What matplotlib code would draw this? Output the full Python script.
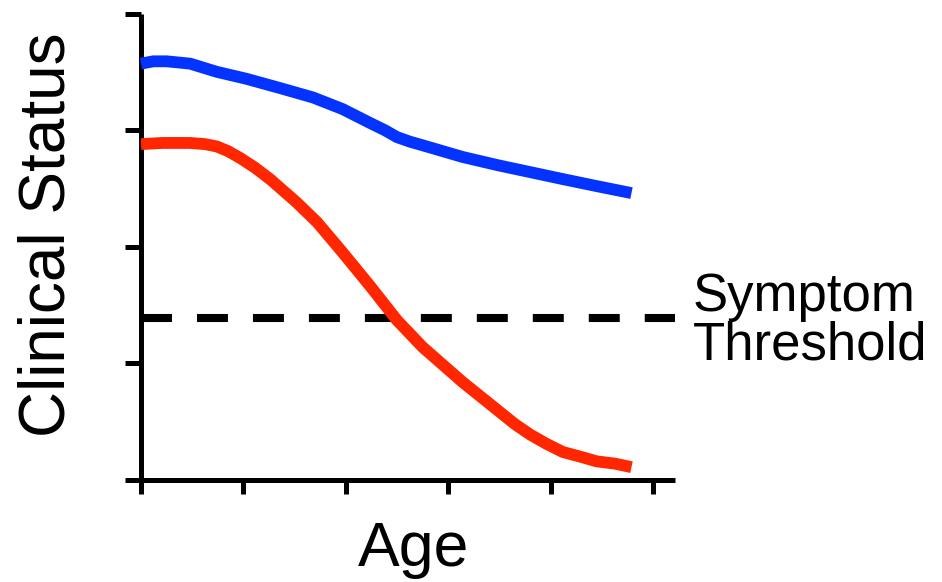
import numpy as np
import matplotlib
matplotlib.use("Agg")
import matplotlib.pyplot as plt

plt.rcParams['font.family'] = ['Liberation Sans', 'DejaVu Sans']
plt.rcParams['lines.scale_dashes'] = False

# Values (x in age tick units, y in status tick units)
healthy_age = [0.0, 0.12, 0.25, 0.48, 0.74, 1.03, 1.36, 1.68, 1.97, 2.24, 2.38,
               2.50, 2.63, 2.75, 3.14, 3.48, 3.80, 4.12, 4.45, 4.79]
healthy_status = [3.57, 3.59, 3.59, 3.57, 3.50, 3.44, 3.36, 3.28, 3.18, 3.06, 3.00,
                  2.94, 2.90, 2.87, 2.77, 2.70, 2.64, 2.58, 2.52, 2.46]

disease_age = [0.0, 0.21, 0.48, 0.625, 0.74, 0.85, 0.97, 1.11, 1.26, 1.52, 1.72,
               1.97, 2.24, 2.50, 2.75, 3.14, 3.48, 3.65, 3.80, 3.96, 4.12, 4.29,
               4.45, 4.63, 4.79]
disease_status = [2.88, 2.89, 2.89, 2.88, 2.86, 2.82, 2.76, 2.68, 2.58, 2.38, 2.21,
                  1.95, 1.66, 1.37, 1.14, 0.84, 0.60, 0.48, 0.39, 0.31, 0.24, 0.20,
                  0.16, 0.14, 0.11]

threshold = 1.39
x_ticks = [0, 1, 2, 3, 4, 5]
y_ticks = [0, 1, 2, 3, 4]

W, H = 942, 582
fig = plt.figure(figsize=(W / 100, H / 100), dpi=100)

# axes box in pixels
left_px, right_px = 126, 675
top_px, bottom_px = 13.5, 480
ax = fig.add_axes([left_px / W, 1 - bottom_px / H,
                   (right_px - left_px) / W, (bottom_px - top_px) / H])

ax.set_xlim((126 - 141) / 102.4, (675 - 141) / 102.4)
ax.set_ylim(0, 4)

ax.plot(healthy_age, healthy_status, color='#0433ff', lw=8.5,
        solid_capstyle='butt', solid_joinstyle='round', zorder=3)
ax.plot(disease_age, disease_status, color='#ff2600', lw=8.5,
        solid_capstyle='butt', solid_joinstyle='round', zorder=3)
ax.plot([0, ax.get_xlim()[1]], [threshold, threshold], color='black', lw=5.8,
        dashes=(22.3, 18.0), zorder=2)

# prism-like axes
for side in ['top', 'right']:
    ax.spines[side].set_visible(False)
ax.spines['left'].set_position(('data', 0))
for side in ['left', 'bottom']:
    ax.spines[side].set_linewidth(3.6)
    ax.spines[side].set_capstyle('butt')

ax.set_xticks(x_ticks)
ax.set_yticks(y_ticks)
ax.tick_params(axis='x', direction='out', length=10, width=3.6, labelbottom=False)
ax.tick_params(axis='y', direction='out', length=11.5, width=3.6, labelleft=False)
ax.patch.set_visible(False)

fig.text(65 / W, 1 - 235 / H, 'Clinical Status', rotation=90, fontsize=46,
         ha='center', va='baseline', rotation_mode='anchor')
fig.text(414 / W, 1 - 566 / H, 'Age', fontsize=45, ha='center', va='baseline')
fig.text(693 / W, 1 - 311 / H, 'Symptom', fontsize=38, ha='left', va='baseline')
fig.text(693 / W, 1 - 359 / H, 'Threshold', fontsize=38, ha='left', va='baseline')

fig.savefig('out.png', dpi=100)
